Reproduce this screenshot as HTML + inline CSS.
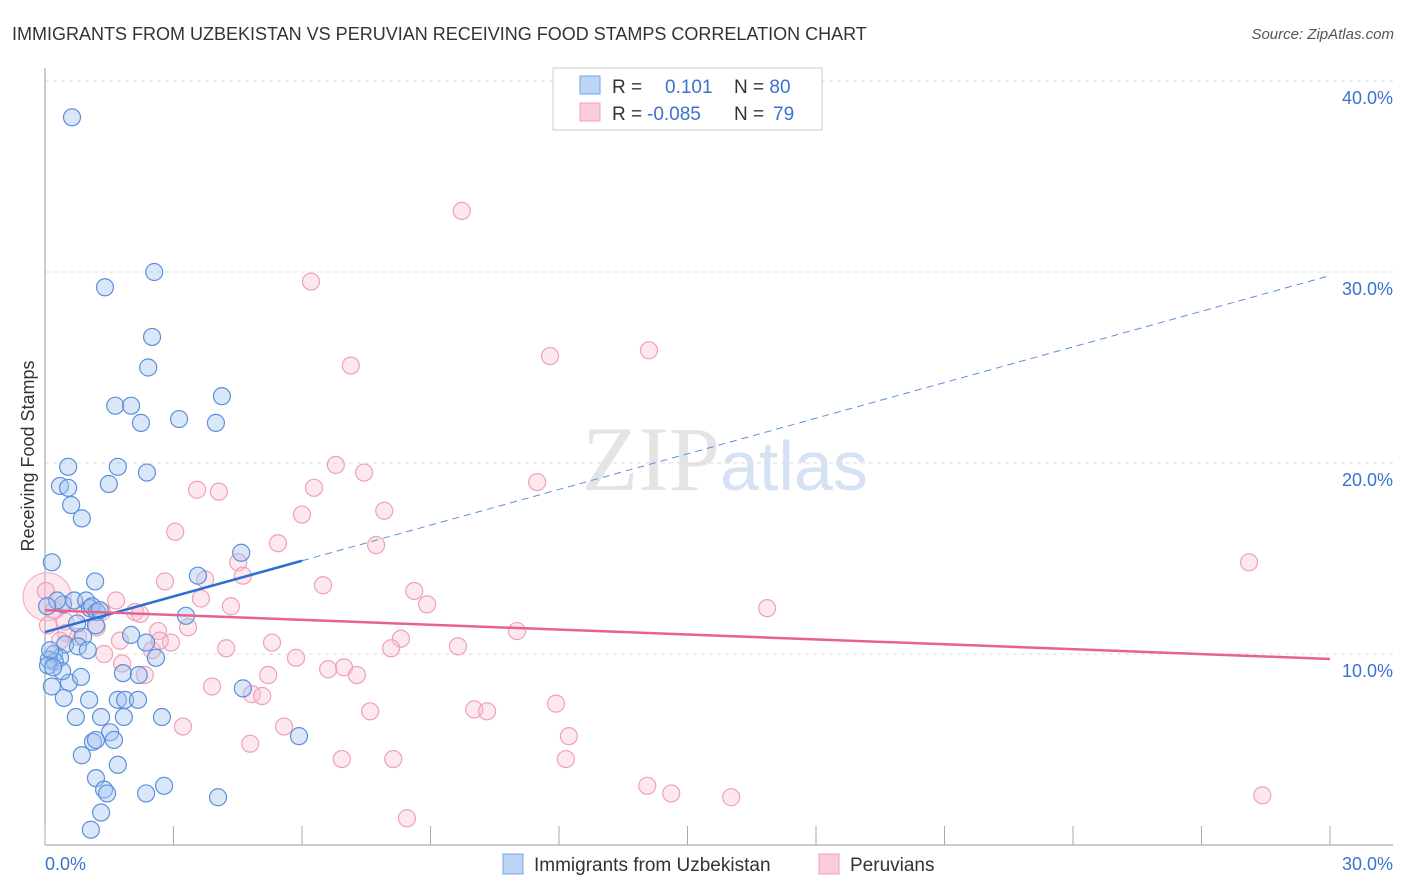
<!DOCTYPE html>
<html><head><meta charset="utf-8"><style>
body{margin:0;background:#fff;font-family:"Liberation Sans",sans-serif}
svg{display:block}
</style></head><body>
<svg id="chart" width="1406" height="892" xmlns="http://www.w3.org/2000/svg">
<text x="12" y="40" font-size="18" fill="#333">IMMIGRANTS FROM UZBEKISTAN VS PERUVIAN RECEIVING FOOD STAMPS CORRELATION CHART</text>
<text x="1394" y="39" font-size="15" fill="#555" text-anchor="end" font-style="italic">Source: ZipAtlas.com</text>
<text x="720" y="490" font-size="92" fill="#e4e4e4" text-anchor="end" font-family="Liberation Serif">ZIP</text>
<text x="720" y="490" font-size="70" fill="#d4e2f4">atlas</text>
<g id="grid"></g><g id="axes"></g><g id="pts"></g><g id="trends"></g>
<text transform="translate(34,456) rotate(-90)" font-size="18" fill="#333" text-anchor="middle">Receiving Food Stamps</text>
<g>
<rect x="553" y="68" width="269" height="62" fill="#fff" stroke="#ccc"/>
<rect x="580" y="76" width="20" height="18" fill="#bcd4f6" stroke="#7aa6e4"/>
<rect x="580" y="103" width="20" height="18" fill="#fbcbd9" stroke="#f0a0b8"/>
<text x="612" y="93" font-size="19" fill="#333">R = <tspan x="665" fill="#3b72d0">0.101</tspan><tspan x="734" fill="#333">N = </tspan><tspan fill="#3b72d0">80</tspan></text>
<text x="612" y="120" font-size="19" fill="#333">R = <tspan x="647" fill="#3b72d0">-0.085</tspan><tspan x="734" fill="#333">N = </tspan><tspan x="773" fill="#3b72d0">79</tspan></text>
</g>
<g>
<rect x="503" y="854" width="20" height="20" fill="#bcd4f6" stroke="#7aa6e4"/>
<text x="534" y="871" font-size="19" fill="#333">Immigrants from Uzbekistan</text>
<rect x="819" y="854" width="20" height="20" fill="#fbcbd9" stroke="#f0a0b8"/>
<text x="850" y="871" font-size="19" fill="#333">Peruvians</text>
</g>
</svg>
<script>
const blueX=[0.63,2.55,1.40,2.50,2.41,1.64,2.01,4.13,2.24,3.13,3.99,0.54,1.70,2.38,0.35,0.54,1.49,0.61,0.86,0.16,1.17,3.57,4.58,0.42,0.68,0.96,1.05,1.10,1.21,1.19,0.75,0.89,2.01,2.36,3.29,0.47,0.77,1.00,0.21,0.35,0.23,0.09,2.59,0.16,0.56,0.84,1.82,2.19,4.62,0.44,1.03,1.70,1.87,2.17,0.72,1.31,1.84,2.73,1.52,1.61,1.12,1.19,0.86,1.70,1.19,1.38,1.45,2.36,2.78,4.04,5.93,1.31,1.07,0.28,0.05,0.12,0.07,0.40,0.19,1.28];
const blueY=[38.1,30.0,29.2,26.6,25.0,23.0,23.0,23.5,22.1,22.3,22.1,19.8,19.8,19.5,18.8,18.7,18.9,17.8,17.1,14.8,13.8,14.1,15.3,12.6,12.8,12.8,12.4,12.5,12.2,11.5,11.6,10.9,11.0,10.6,12.0,10.5,10.4,10.2,10.0,9.8,9.6,9.7,9.8,8.3,8.5,8.8,9.0,8.9,8.2,7.7,7.6,7.6,7.6,7.6,6.7,6.7,6.7,6.7,5.9,5.5,5.4,5.5,4.7,4.2,3.5,2.9,2.7,2.7,3.1,2.5,5.7,1.7,0.8,12.8,12.5,10.2,9.4,9.1,9.3,12.3];
const pinkX=[9.73,6.21,7.14,11.79,14.10,6.79,7.45,3.55,4.06,6.28,11.49,3.04,6.00,7.92,5.44,7.73,28.11,4.51,4.62,3.74,2.80,6.49,3.64,8.62,8.92,4.34,1.66,2.10,2.22,16.86,1.33,2.64,3.34,5.30,8.31,11.02,9.64,8.08,2.94,4.23,0.47,1.21,0.77,0.21,0.02,1.38,2.50,1.80,5.86,6.98,6.61,7.28,5.21,2.33,3.90,4.83,5.07,11.93,7.59,10.02,10.32,5.58,3.22,12.23,4.79,6.93,8.13,12.16,14.06,14.62,16.02,28.42,8.45,0.93,1.75,0.49,0.35,0.07,2.68];
const pinkY=[33.2,29.5,25.1,25.6,25.9,19.9,19.5,18.6,18.5,18.7,19.0,16.4,17.3,17.5,15.8,15.7,14.8,14.8,14.1,13.9,13.8,13.6,12.9,13.3,12.6,12.5,12.8,12.2,12.1,12.4,12.2,11.2,11.4,10.6,10.8,11.2,10.4,10.3,10.6,10.3,11.7,11.4,10.9,12.3,13.3,10.0,10.2,9.5,9.8,9.3,9.2,8.9,8.9,8.9,8.3,7.9,7.8,7.4,7.0,7.1,7.0,6.2,6.2,5.7,5.3,4.5,4.5,4.5,3.1,2.7,2.5,2.6,1.4,12.2,10.7,11.1,10.7,11.5,10.7];
const xMax=30, yMax=44.24;
const sx=v=>45+v/xMax*1285;
const sy=v=>845-v*19.1;
const yTicks=[10,20,30,40];
const yTickLabels=["10.0%","20.0%","30.0%","40.0%"];
const xTickVals=[0,3,6,9,12,15,18,21,24,27,30];
const NS="http://www.w3.org/2000/svg";
function mk(tag,attrs,parent){const e=document.createElementNS(NS,tag);for(const k in attrs)e.setAttribute(k,attrs[k]);parent.appendChild(e);return e;}
const grid=document.getElementById('grid'),axes=document.getElementById('axes'),pts=document.getElementById('pts'),tr=document.getElementById('trends');
yTicks.forEach((v,i)=>{
 const l=mk('line',{x1:45,x2:1393,y1:sy(v),y2:sy(v),stroke:'#ddd','stroke-dasharray':'4,4'},grid);
 
 
 const t=mk('text',{x:1393,y:sy(v)+23,'font-size':18,fill:'#3b72d0','text-anchor':'end'},axes);
 t.textContent=yTickLabels[i];
 
 
});
const ya=mk('line',{x1:45,x2:45,y1:68,y2:845,stroke:'#999'},axes);


const xa=mk('line',{x1:45,x2:1393,y1:845,y2:845,stroke:'#999'},axes);


xTickVals.forEach(v=>{
 const t=mk('line',{x1:sx(v),x2:sx(v),y1:826,y2:845,stroke:'#aaa'},axes);
 
 
});
const xl0=mk('text',{x:45,y:870,'font-size':18,fill:'#3b72d0'},axes);xl0.textContent='0.0%';


const xl1=mk('text',{x:1393,y:870,'font-size':18,fill:'#3b72d0','text-anchor':'end'},axes);xl1.textContent='30.0%';


const big=mk('circle',{cx:sx(0.05),cy:sy(13.0),r:24,fill:'rgba(248,190,205,0.35)',stroke:'#f0a8bd'},pts);


pinkX.forEach((x,i)=>{
 const c=mk('circle',{cx:sx(x),cy:sy(pinkY[i]),r:8.5,fill:'rgba(248,190,205,0.35)',stroke:'#f0a0b8','stroke-width':1.2},pts);
 
 
});
blueX.forEach((x,i)=>{
 const c=mk('circle',{cx:sx(x),cy:sy(blueY[i]),r:8.5,fill:'rgba(160,195,240,0.4)',stroke:'#5d8fdc','stroke-width':1.2},pts);
 
 
});
const bI=11.15,bS=0.622,pI=12.3,pS=-0.0853;
const b1=mk('line',{x1:sx(0),y1:sy(bI),x2:sx(6),y2:sy(bI+bS*6),stroke:'#2a6fd6','stroke-width':2.5},tr);


const b2=mk('line',{x1:sx(6),y1:sy(bI+bS*6),x2:sx(30),y2:sy(bI+bS*30),stroke:'#5d8fdc','stroke-width':1,'stroke-dasharray':'7,5'},tr);


const p1=mk('line',{x1:sx(0),y1:sy(pI),x2:sx(30),y2:sy(pI+pS*30),stroke:'#e8628f','stroke-width':2.5},tr);


</script>
</body></html>
